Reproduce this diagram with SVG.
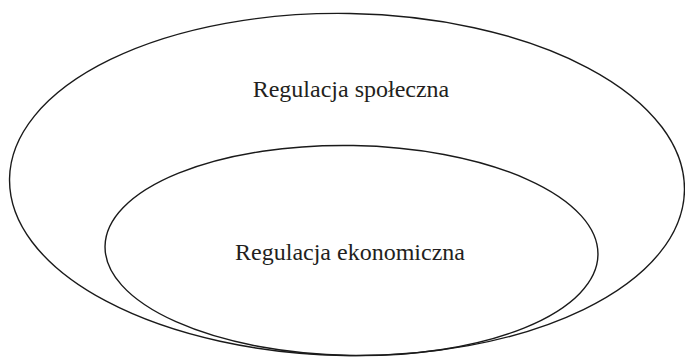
<svg xmlns="http://www.w3.org/2000/svg" width="685" height="357" viewBox="0 0 685 357">
<style>
.e{fill:none;stroke:#1a1a1a;stroke-width:1.4}
.t{font-family:"Liberation Serif","Times New Roman",serif;font-size:24px;fill:#231f20;text-anchor:middle}
</style>
<rect width="685" height="357" fill="#fff"/>
<g id="outer">
<ellipse class="e" cx="347" cy="184.5" rx="337.5" ry="171" transform="rotate(1 347 184.5)"/>
<text class="t" x="351" y="97">Regulacja społeczna</text>
</g>
<g id="inner">
<ellipse class="e" cx="351.5" cy="250.5" rx="246.5" ry="105" transform="rotate(1 351.5 250.5)"/>
<text class="t" x="350" y="259.5">Regulacja ekonomiczna</text>
</g>
<g id="connectors"></g>
</svg>
